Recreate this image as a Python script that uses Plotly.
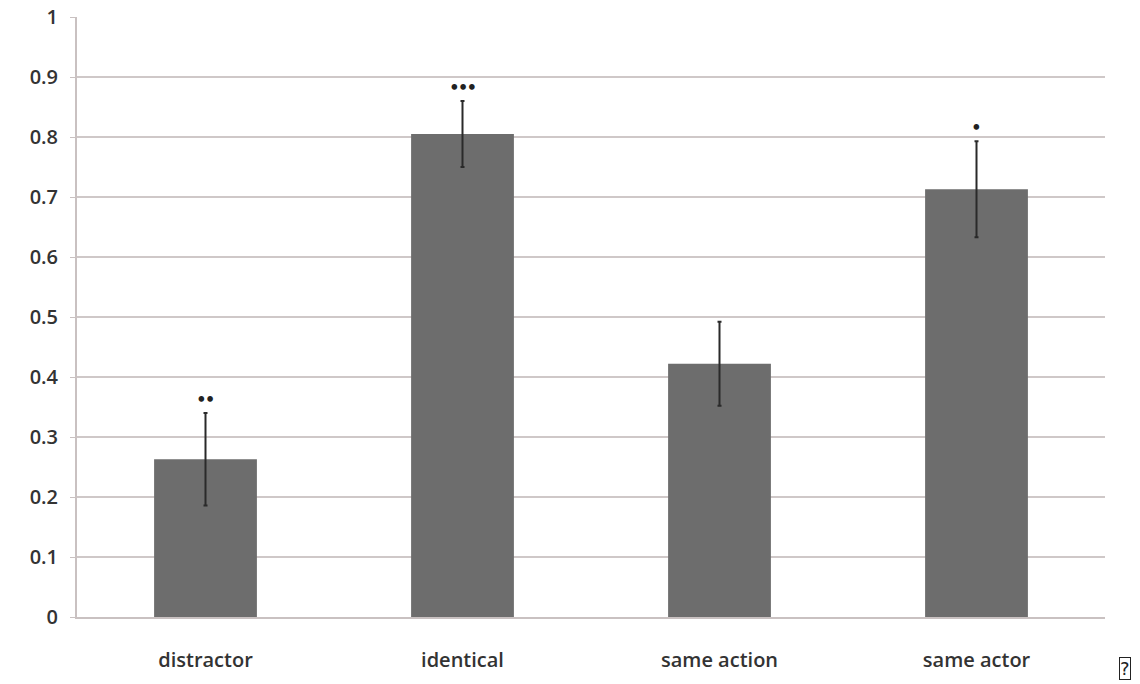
import plotly.graph_objects as go

categories = ["distractor", "identical", "same action", "same actor"]
values = [0.263, 0.805, 0.422, 0.713]
errors = [0.077, 0.055, 0.070, 0.080]
marks = ["••", "•••", "", "•"]
y_ticks = [0, 0.1, 0.2, 0.3, 0.4, 0.5, 0.6, 0.7, 0.8, 0.9, 1]
y_tick_text = ["0", "0.1", "0.2", "0.3", "0.4", "0.5", "0.6", "0.7", "0.8", "0.9", "1"]

font_family = "'Open Sans', Lato, sans-serif"
x_font = dict(family=font_family, size=20, color="#333", weight=600)
y_font = dict(family=font_family, size=20, color="#333", weight=600)

fig = go.Figure()
fig.add_trace(go.Bar(
    x=categories,
    y=values,
    marker=dict(color="#6d6d6d", line=dict(width=0)),
    error_y=dict(type="data", array=errors, visible=True,
                 color="#2a2a2a", thickness=2, width=2),
    showlegend=False,
))

for cat, v, e, m in zip(categories, values, errors, marks):
    if m:
        fig.add_annotation(x=cat, y=v + e, text=m, showarrow=False,
                           yanchor="bottom", yshift=4,
                           font=dict(family="Lato, sans-serif", size=15, color="#222"))

# stray missing-glyph box in the lower right corner
fig.add_annotation(xref="paper", yref="paper", x=1.0195, y=-0.085,
                   text="?", showarrow=False, xanchor="center", yanchor="middle",
                   font=dict(family="DejaVu Sans", size=18, color="#222"),
                   bordercolor="#222", borderwidth=1, borderpad=0)

fig.update_layout(
    width=1140, height=684,
    margin=dict(l=77, r=35, t=17, b=67),
    paper_bgcolor="white", plot_bgcolor="white",
    bargap=0.6,
    font=dict(family=font_family, size=17, color="#333"),
    xaxis=dict(showgrid=False, showline=True, linecolor="#c9c1c1", linewidth=2,
               ticks="", tickfont=x_font, ticklabelstandoff=24, automargin=False),
    yaxis=dict(range=[0, 1], tickvals=y_ticks, ticktext=y_tick_text,
               showgrid=True, gridcolor="#cfc8c8", gridwidth=2,
               showline=True, linecolor="#c9c1c1", linewidth=2,
               ticks="outside", ticklen=5, tickcolor="#c9c1c1",
               tickfont=y_font, ticklabelstandoff=8,
               zeroline=False, automargin=False),
)

fig.write_html("out.html")
